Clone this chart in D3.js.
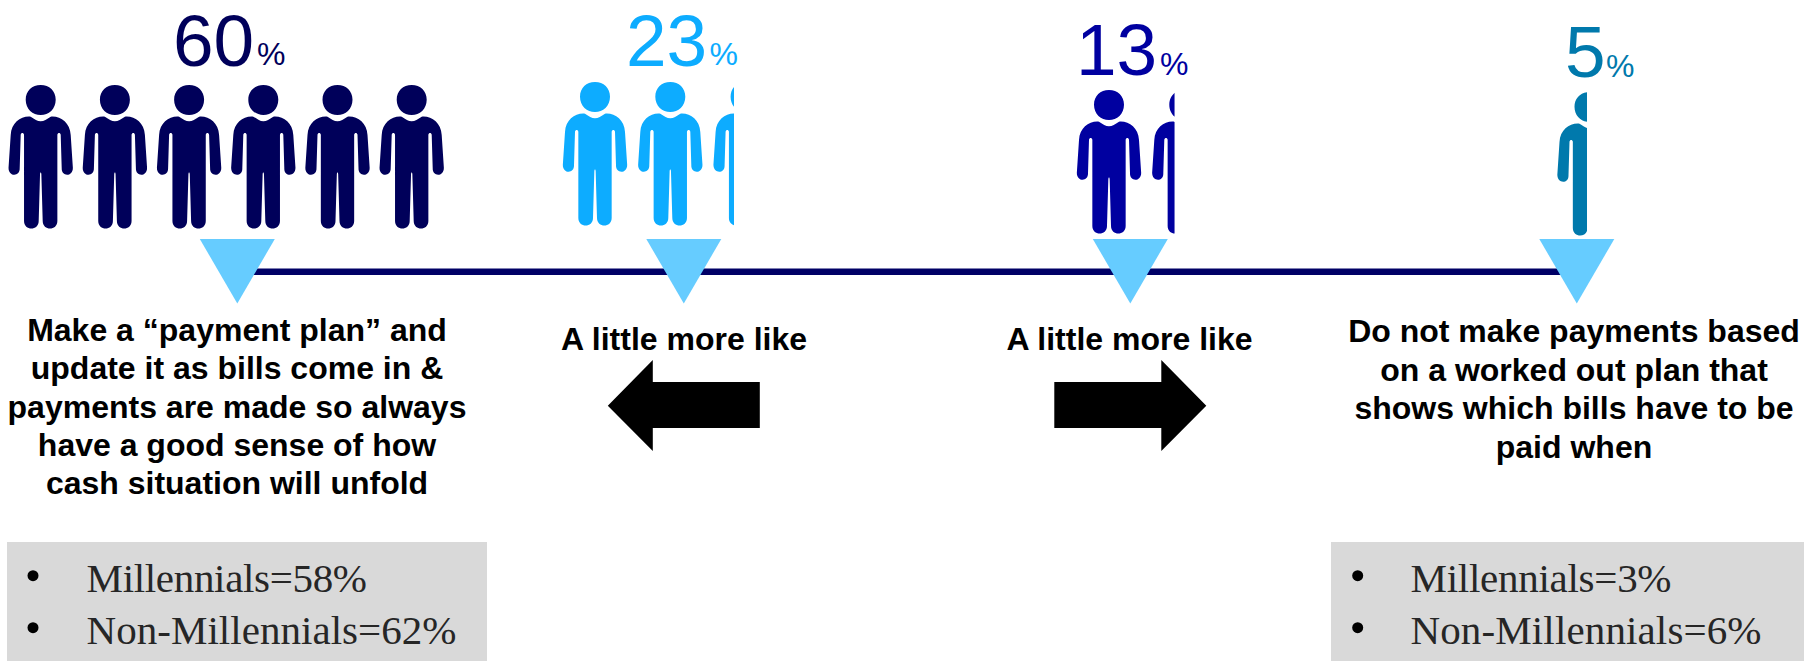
<!DOCTYPE html>
<html>
<head>
<meta charset="utf-8">
<style>html,body{margin:0;padding:0;background:#fff;overflow:hidden}svg{display:block}</style>
<script src="https://cdn.jsdelivr.net/npm/d3@7/dist/d3.min.js"></script>
</head>
<body>
<svg id="chart" width="1804" height="661"></svg>
<script>
// --- data ---
const categories = ["plan", "littleLeft", "littleRight", "noPlan"];
const shares = [60, 23, 13, 5];
const peopleShown = [6, 2.32, 1.35, 0.46];
const captions = [
  ["Make a “payment plan” and", "update it as bills come in &", "payments are made so always", "have a good sense of how", "cash situation will unfold"],
  ["A little more like"],
  ["A little more like"],
  ["Do not make payments based", "on a worked out plan that", "shows which bills have to be", "paid when"]
];
const breakdownLeft = ["Millennials=58%", "Non-Millennials=62%"];
const breakdownRight = ["Millennials=3%", "Non-Millennials=6%"];
const arrowDirections = [null, -1, 1, null];

// --- styles and layout ---
const colors = ["#00005a", "#0dacff", "#0000a0", "#0079ac"];
const markerColor = "#66ccff";
const lineColor = "#000066";
const boxColor = "#d9d9d9";
const personLeftCenter = [40.7, 595, 1109, 1589.5];
const personStep = [74.2, 75.3, 75.3, 75.3];
const personTop = [85, 82, 90, 92];
const numberX = [173, 626, 1076, 1565];
const percentX = [257, 709.5, 1160, 1606];
const numberBase = [66.2, 66.2, 75, 76.5];
const percentBase = [65, 65, 75, 76.5];
const captionBase = [340.7, 349.7, 349.7, 342.3];
const captionCenter = [237, 684, 1129.5, 1574];
const leftWidths = [280.5, 370];
const rightWidths = [261, 351];

const sansBold = "'Liberation Sans', Arial, sans-serif";
const svg = d3.select("#chart");
const x = d3.scalePoint().domain(categories).range([237.3, 1576.8]);
const defs = svg.append("defs");

// Person glyph, in a local box 193 wide and 430 tall, centred on x = 0
function personPath() {
  const p = d3.path();
  p.moveTo(45, 44);
  p.bezierCurveTo(45, 72, 24, 90, 0, 90);
  p.bezierCurveTo(-24, 90, -45, 72, -45, 44);
  p.bezierCurveTo(-45, 18, -26, 0, 0, 0);
  p.bezierCurveTo(26, 0, 45, 18, 45, 44);
  p.closePath();
  const half = s => {
    p.bezierCurveTo(s*10, 109, s*18, 102, s*30, 95);
    p.bezierCurveTo(s*58, 92, s*88, 112, s*90, 150);
    p.lineTo(s*96.5, 248);
    p.bezierCurveTo(s*97, 276, s*62, 276, s*63, 250);
    p.lineTo(s*60, 149);
    p.bezierCurveTo(s*59, 142, s*51, 142, s*50, 149);
    p.lineTo(s*50, 408);
    p.bezierCurveTo(s*50, 438, s*6, 438, s*6, 408);
    p.lineTo(s*2, 268);
    p.bezierCurveTo(s*1.5, 262, 0, 262, 0, 264);
  };
  p.moveTo(0, 109);
  half(1);
  p.lineTo(0, 109);
  p.closePath();
  p.moveTo(0, 109);
  half(-1);
  p.lineTo(0, 109);
  p.closePath();
  return p.toString();
}
const personD = personPath();
const personScale = 1 / 3;
const personWidth = 65;

// connecting line behind the markers
svg.append("line")
  .attr("x1", x(categories[0])).attr("x2", x(categories[3]))
  .attr("y1", 271.7).attr("y2", 271.7)
  .attr("stroke", lineColor).attr("stroke-width", 6.5);

categories.forEach((c, i) => {
  const g = svg.append("g").attr("class", "group-" + c);
  const count = Math.ceil(peopleShown[i]);
  const visibleRight = personLeftCenter[i] - personWidth / 2 + personStep[i] * Math.floor(peopleShown[i])
    + personWidth * (peopleShown[i] - Math.floor(peopleShown[i]));
  const right = Number.isInteger(peopleShown[i]) ? 1804 : visibleRight;
  const clipId = "clip-" + c;
  defs.append("clipPath").attr("id", clipId).append("rect")
    .attr("x", 0).attr("y", 0).attr("width", right).attr("height", 240);

  g.append("g").attr("clip-path", `url(#${clipId})`)
    .selectAll("path").data(d3.range(count)).join("path")
    .attr("d", personD)
    .attr("fill", colors[i])
    .attr("transform", k => `translate(${personLeftCenter[i] + k * personStep[i]},${personTop[i]}) scale(${personScale})`);

  g.append("text").text(shares[i])
    .attr("x", numberX[i]).attr("y", numberBase[i])
    .attr("font-family", sansBold).attr("font-size", 73).attr("fill", colors[i]);
  g.append("text").text("%")
    .attr("x", percentX[i]).attr("y", percentBase[i])
    .attr("font-family", sansBold).attr("font-size", 32).attr("fill", colors[i]);

  // marker triangle
  const cx = x(c);
  g.append("path")
    .attr("d", d3.line()([[cx - 37.5, 239], [cx + 37.5, 239], [cx, 303.5]]) + "Z")
    .attr("fill", markerColor);

  // caption
  g.append("g").selectAll("text").data(captions[i]).join("text")
    .text(d => d)
    .attr("x", captionCenter[i])
    .attr("y", (d, k) => captionBase[i] + k * 38.4)
    .attr("text-anchor", "middle")
    .attr("font-family", sansBold).attr("font-weight", 700)
    .attr("font-size", 32).attr("fill", "#000");

  // arrow
  const dir = arrowDirections[i];
  if (dir) {
    const pts = [[-76, -23.7], [31, -23.7], [31, -45.7], [76, 0], [31, 45.3], [31, 22.3], [-76, 22.3]]
      .map(([a, b]) => [cx + dir * a, 405.7 + b]);
    g.append("path").attr("d", d3.line()(pts) + "Z").attr("fill", "#000");
  }
});

// breakdown boxes
function box(x0, x1, bulletX, textX, rows, widths) {
  const g = svg.append("g");
  g.append("rect").attr("x", x0).attr("y", 542).attr("width", x1 - x0).attr("height", 119).attr("fill", boxColor);
  rows.forEach((t, k) => {
    g.append("circle").attr("cx", bulletX).attr("cy", 575.7 + k * 52).attr("r", 5.5).attr("fill", "#000");
    g.append("text").text(t).attr("x", textX).attr("y", 591.7 + k * 51.8)
      .attr("textLength", widths[k]).attr("lengthAdjust", "spacing")
      .attr("font-family", "'Liberation Serif', serif").attr("font-size", 41).attr("fill", "#262626");
  });
}
box(7, 487, 33, 86.5, breakdownLeft, leftWidths);
box(1331, 1804, 1357.7, 1410.5, breakdownRight, rightWidths);
</script>
</body>
</html>
